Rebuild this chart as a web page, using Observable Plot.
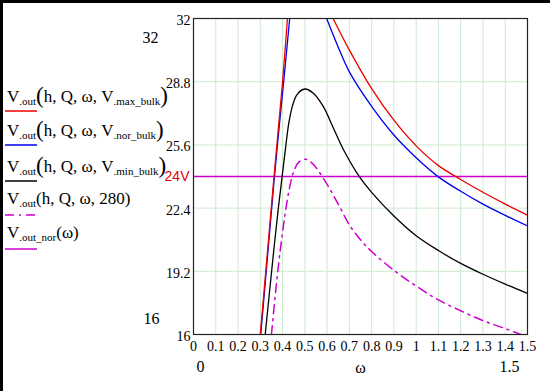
<!DOCTYPE html>
<html>
<head>
<meta charset="utf-8">
<script src="https://cdn.jsdelivr.net/npm/d3@7"></script>
<script src="https://cdn.jsdelivr.net/npm/@observablehq/plot@0.6"></script>
<style>
  body { margin: 0; background: #fff; }
  #wrap { position: relative; width: 550px; height: 391px; overflow: hidden; font-family: "Liberation Serif", "Times New Roman", serif; }
  #wrap svg text { font-family: "Liberation Serif", "Times New Roman", serif; }
  #wrap svg g[fill="#e00000"] text { font-family: "Liberation Sans", Arial, sans-serif; }
  #border { position: absolute; left: 0; top: 0; width: 550px; height: 391px; border-top: 3px solid #000; border-left: 3px solid #000; box-sizing: border-box; pointer-events: none; }
  .leg { position: absolute; left: 7px; white-space: nowrap; font-size: 17px; color: #000; line-height: 20px; }
  .leg sub { font-size: 11px; vertical-align: -3px; }
  .leg .p { font-size: 23px; position: relative; top: 1px; }
</style>
</head>
<body>
<div id="wrap"></div>
<script>
// ---- data ----
const omegaTicks = [0, 0.1, 0.2, 0.3, 0.4, 0.5, 0.6, 0.7, 0.8, 0.9, 1, 1.1, 1.2, 1.3, 1.4, 1.5];
const vTicks = [16, 19.2, 22.4, 25.6, 28.8, 32];
const vGrid = [19.2, 22.4, 25.6, 28.8];
const vNor = [24];

// V_out(h,Q,ω,V_max_bulk) — red (null = curve is above the top of the plot)
const maxBulkW = [0.300, 0.320, 0.340, 0.360, 0.380, 0.400, 0.422, 0.52, 0.627, 0.7, 0.8, 0.9, 1.0, 1.1, 1.2, 1.3, 1.4, 1.5];
const maxBulkV = [16, 18.6, 21.2, 23.8, 26.3, 28.8, 32, null, 32, 30.4, 28.45, 26.85, 25.55, 24.55, 23.85, 23.2, 22.6, 22.04];
// V_out(h,Q,ω,V_nor_bulk) — blue
const norBulkW = [0.302, 0.322, 0.342, 0.362, 0.383, 0.405, 0.432, 0.52, 0.598, 0.65, 0.7, 0.8, 0.9, 1.0, 1.1, 1.2, 1.3, 1.4, 1.5];
const norBulkV = [16, 18.6, 21.2, 23.8, 26.3, 28.8, 32, null, 32, 30.55, 29.3, 27.55, 26.1, 24.95, 23.98, 23.25, 22.6, 22.03, 21.5];
// V_out(h,Q,ω,V_min_bulk) — black
const minBulkW = [0.322, 0.340, 0.360, 0.380, 0.398, 0.413, 0.428, 0.445, 0.465, 0.5, 0.537, 0.582, 0.628, 0.673, 0.748, 0.8, 0.9, 1.0, 1.1, 1.2, 1.3, 1.4, 1.5];
const minBulkV = [16, 18.0, 20.2, 22.3, 24.0, 25.4, 26.7, 27.6, 28.15, 28.43, 28.23, 27.56, 26.46, 25.37, 23.94, 23.2, 22.0, 21.0, 20.25, 19.6, 19.05, 18.55, 18.08];
// V_out(h,Q,ω,280) — magenta dash-dot
const v280W = [0.35, 0.37, 0.39, 0.41, 0.43, 0.45, 0.475, 0.505, 0.535, 0.56, 0.6, 0.65, 0.7, 0.75, 0.8, 0.9, 1.0, 1.1, 1.2, 1.3, 1.4, 1.47];
const v280V = [16, 18.3, 20.3, 22.0, 23.35, 24.25, 24.75, 24.87, 24.65, 24.3, 23.6, 22.6, 21.55, 20.8, 20.2, 19.25, 18.45, 17.75, 17.2, 16.7, 16.3, 16.0];

const zip = (w, v) => w.map((d, i) => ({w: d, v: v[i]}));

const font = "Liberation Serif, Times New Roman, serif";
const magenta = "#cc00cc";
const red = "#ee0000";
const blue = "#0000ee";

const plot = Plot.plot({
  width: 550,
  height: 391,
  marginLeft: 193,
  marginRight: 23,
  marginTop: 18,
  marginBottom: 57,
  style: {background: "transparent", color: "#000"},
  x: {domain: [0, 1.5]},
  y: {domain: [16, 32]},
  marks: [
    Plot.gridX(omegaTicks, {stroke: "#cfe9cf", strokeOpacity: 1, strokeWidth: 1}),
    Plot.gridY(vGrid, {stroke: "#cfe9cf", strokeOpacity: 1, strokeWidth: 1}),
    Plot.axisX(omegaTicks, {tickSize: 0, tickPadding: 7, label: null, fontSize: 14, tickFormat: d => String(d)}),
    Plot.axisY(vTicks, {tickSize: 0, tickPadding: 3, label: null, fontSize: 14, dy: 2, tickFormat: d => String(d)}),
    Plot.ruleY(vNor, {stroke: magenta, strokeWidth: 1.5}),
    Plot.text(vNor, {y: d => d, text: d => d + "V", frameAnchor: "left", textAnchor: "end", dx: -4, fill: "#e00000", fontSize: 14}),
    Plot.line(zip(v280W, v280V), {x: "w", y: "v", stroke: magenta, strokeWidth: 1.5, strokeDasharray: "9,5,2,5", curve: "catmull-rom", clip: true}),
    Plot.line(zip(minBulkW, minBulkV), {x: "w", y: "v", stroke: "#000", strokeWidth: 1.3, curve: "catmull-rom", clip: true}),
    Plot.line(zip(norBulkW, norBulkV), {x: "w", y: "v", stroke: blue, strokeWidth: 1.3, curve: "catmull-rom", clip: true}),
    Plot.line(zip(maxBulkW, maxBulkV), {x: "w", y: "v", stroke: red, strokeWidth: 1.3, curve: "catmull-rom", clip: true}),
    Plot.frame({stroke: "#222", strokeWidth: 1.2}),
    // Mathcad axis-limit fields
    Plot.text([32], {y: d => d, text: d => String(d), frameAnchor: "left", textAnchor: "end", dx: -35, dy: 19, fontSize: 16}),
    Plot.text([16], {y: d => d, text: d => String(d), frameAnchor: "left", textAnchor: "end", dx: -34, dy: -16, fontSize: 16}),
    Plot.text([0], {x: d => d, text: d => String(d), frameAnchor: "bottom", textAnchor: "start", dx: 3, dy: 37, fontSize: 16}),
    Plot.text([1.5], {x: d => d, text: d => String(d), frameAnchor: "bottom", textAnchor: "end", dx: -8, dy: 37, fontSize: 16}),
    Plot.text(["ω"], {text: d => d, frameAnchor: "bottom", dy: 38, fontSize: 16})
  ]
});

const wrap = document.getElementById("wrap");
plot.style.position = "absolute";
plot.style.left = "0px";
plot.style.top = "0px";
wrap.appendChild(plot);

// legend
const legendItems = [
  {html: 'V<sub>.out</sub><span class="p">(</span>h, Q, ω, V<sub>.max_bulk</sub><span class="p">)</span>', line: 111, color: red, dash: null},
  {html: 'V<sub>.out</sub><span class="p">(</span>h, Q, ω, V<sub>.nor_bulk</sub><span class="p">)</span>', line: 145, color: blue, dash: null},
  {html: 'V<sub>.out</sub><span class="p">(</span>h, Q, ω, V<sub>.min_bulk</sub><span class="p">)</span>', line: 181, color: "#000", dash: null},
  {html: 'V<sub>.out</sub>(h, Q, ω, 280)', line: 215, color: magenta, dash: "9,5,2,5"},
  {html: 'V<sub>.out_nor</sub>(ω)', line: 249, color: magenta, dash: null}
];
for (const it of legendItems) {
  const t = document.createElement("div");
  t.className = "leg";
  t.style.top = (it.line - 26) + "px";
  t.innerHTML = it.html;
  wrap.appendChild(t);
  const s = document.createElementNS("http://www.w3.org/2000/svg", "svg");
  s.setAttribute("width", 34);
  s.setAttribute("height", 4);
  s.style.position = "absolute";
  s.style.left = "5px";
  s.style.top = (it.line - 2) + "px";
  const l = document.createElementNS("http://www.w3.org/2000/svg", "line");
  l.setAttribute("x1", 0); l.setAttribute("x2", 32);
  l.setAttribute("y1", 2); l.setAttribute("y2", 2);
  l.setAttribute("stroke", it.color);
  l.setAttribute("stroke-width", 1.5);
  if (it.dash) l.setAttribute("stroke-dasharray", it.dash);
  s.appendChild(l);
  wrap.appendChild(s);
}
const b = document.createElement("div");
b.id = "border";
wrap.appendChild(b);
</script>
</body>
</html>
